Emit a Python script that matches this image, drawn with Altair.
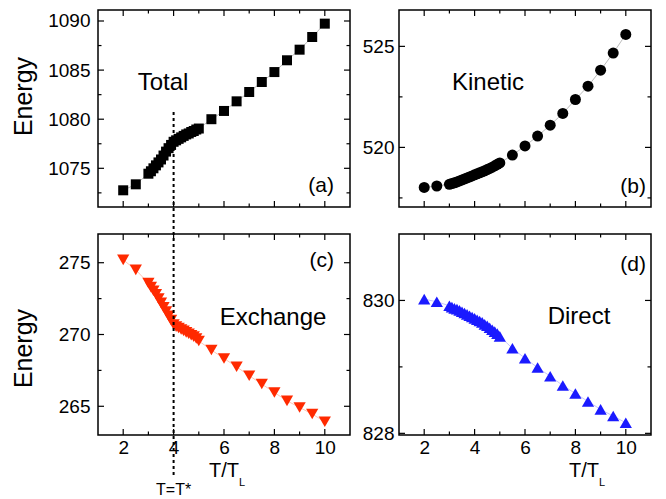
import altair as alt
import pandas as pd

# ---------------- data ----------------
T_VALS = [2.0, 2.5, 3.0, 3.1, 3.2, 3.3, 3.4, 3.5, 3.6, 3.7, 3.8, 3.9, 4.0,
          4.1, 4.2, 4.3, 4.4, 4.5, 4.6, 4.7, 4.8, 4.9, 5.0, 5.5, 6.0, 6.5,
          7.0, 7.5, 8.0, 8.5, 9.0, 9.5, 10.0]

TOTAL = [1072.76, 1073.37, 1074.45, 1074.7, 1075.0, 1075.3, 1075.6, 1075.9,
         1076.3, 1076.7, 1077.05, 1077.38, 1077.7, 1077.85, 1078.0, 1078.15,
         1078.3, 1078.45, 1078.55, 1078.7, 1078.8, 1078.95, 1079.05, 1080.0,
         1080.84, 1081.82, 1082.77, 1083.79, 1084.8, 1086.0, 1087.08, 1088.37,
         1089.73]

KINETIC = [518.02, 518.09, 518.17, 518.21, 518.25, 518.29, 518.34, 518.39,
           518.44, 518.49, 518.54, 518.59, 518.64, 518.69, 518.74, 518.79,
           518.84, 518.9, 518.96, 519.02, 519.09, 519.16, 519.23, 519.62,
           520.07, 520.56, 521.1, 521.68, 522.37, 523.03, 523.82, 524.67,
           525.59]

EXCHANGE = [275.2, 274.5, 273.58, 273.3, 273.05, 272.8, 272.5, 272.2, 271.9,
            271.6, 271.3, 271.0, 270.7, 270.55, 270.45, 270.35, 270.25,
            270.15, 270.05, 269.95, 269.85, 269.72, 269.55, 268.92, 268.33,
            267.75, 267.13, 266.55, 265.96, 265.38, 264.92, 264.46, 263.92]

DIRECT = [830.02, 829.98, 829.92, 829.9, 829.88, 829.87, 829.85, 829.83,
          829.81, 829.79, 829.77, 829.75, 829.73, 829.71, 829.69, 829.67,
          829.64, 829.62, 829.59, 829.56, 829.53, 829.5, 829.46, 829.28,
          829.13, 828.99, 828.86, 828.72, 828.6, 828.48, 828.36, 828.26,
          828.16]

PANEL_NAMES = ["Total", "Kinetic", "Exchange", "Direct"]
PANEL_TAGS = ["(a)", "(b)", "(c)", "(d)"]

X_MAJOR = [2, 4, 6, 8, 10]
X_MINOR = [3, 5, 7, 9]

A_MAJOR = [1075, 1080, 1085, 1090]
A_MINOR = [1072.5, 1077.5, 1082.5, 1087.5]
B_MAJOR = [520, 525]
B_MINOR = [517.5, 522.5]
C_MAJOR = [265, 270, 275]
C_MINOR = [267.5, 272.5]
D_MAJOR = [828, 830]
D_MINOR = [829]

T_STAR = [4.0]
T_STAR_LABEL = ["T=T*"]
Y_TITLE = "Energy"
X_TITLE_MAIN = "T/T"
X_TITLE_SUB = "L"

FONT = "Liberation Sans"
W = 252


def make_panel(vals, ydom, H, ymaj, ymin, shape, size, color, line_color,
               show_x, ytitle, title_y, label_pad, name, name_xy, tag, tag_xy,
               xtitle_x=None, tstar=False):
    df = pd.DataFrame({"T": T_VALS, "E": vals})
    xaxis = alt.Axis(values=X_MAJOR, labels=show_x, ticks=False, domain=False,
                     grid=False, title=None, labelFontSize=19, labelPadding=3,
                     labelFlush=False, labelOverlap=False, format="d")
    ykw = dict(values=ymaj, ticks=False, domain=False, grid=False,
               labelFontSize=19, labelPadding=label_pad, labelFlush=False,
               labelOverlap=False, format="d")
    if ytitle:
        yaxis = alt.Axis(title=Y_TITLE, titleFontSize=25,
                         titleFontWeight="normal", titleX=-62, titleY=title_y,
                         **ykw)
    else:
        yaxis = alt.Axis(title=None, **ykw)
    x = alt.X("T:Q", scale=alt.Scale(domain=[1, 11], nice=False, zero=False),
              axis=xaxis)
    y = alt.Y("E:Q", scale=alt.Scale(domain=ydom, nice=False, zero=False),
              axis=yaxis)

    layers = []
    layers.append(alt.Chart(df).mark_line(color=line_color, strokeWidth=0.7,
                                          opacity=0.7).encode(x=x, y=y))
    layers.append(alt.Chart(df).mark_point(shape=shape, filled=True, size=size,
                                           color=color, opacity=1,
                                           strokeWidth=0).encode(x=x, y=y))
    # inward ticks on all four sides
    for vals_, L in [(X_MAJOR, 6), (X_MINOR, 3.5)]:
        tdf = pd.DataFrame({"T": vals_})
        layers.append(alt.Chart(tdf).mark_rule(color="black", strokeWidth=1.2)
                      .encode(x=x, y=alt.value(H), y2=alt.value(H - L)))
        layers.append(alt.Chart(tdf).mark_rule(color="black", strokeWidth=1.2)
                      .encode(x=x, y=alt.value(0), y2=alt.value(L)))
    for vals_, L in [(ymaj, 6), (ymin, 3.5)]:
        tdf = pd.DataFrame({"E": vals_})
        layers.append(alt.Chart(tdf).mark_rule(color="black", strokeWidth=1.2)
                      .encode(y=y, x=alt.value(0), x2=alt.value(L)))
        layers.append(alt.Chart(tdf).mark_rule(color="black", strokeWidth=1.2)
                      .encode(y=y, x=alt.value(W), x2=alt.value(W - L)))
    # panel texts
    layers.append(alt.Chart(pd.DataFrame({"label": [name]}))
                  .mark_text(font=FONT, fontSize=24, align="center",
                             baseline="middle", color="black")
                  .encode(text="label:N", x=alt.value(name_xy[0]),
                          y=alt.value(name_xy[1])))
    layers.append(alt.Chart(pd.DataFrame({"label": [tag]}))
                  .mark_text(font=FONT, fontSize=21, align="right",
                             baseline="middle", color="black")
                  .encode(text="label:N", x=alt.value(tag_xy[0]),
                          y=alt.value(tag_xy[1])))
    if xtitle_x is not None:
        layers.append(alt.Chart(pd.DataFrame({"label": [X_TITLE_MAIN]}))
                      .mark_text(font=FONT, fontSize=20, align="left",
                                 baseline="middle", color="black")
                      .encode(text="label:N", x=alt.value(xtitle_x),
                              y=alt.value(H + 36)))
        layers.append(alt.Chart(pd.DataFrame({"label": [X_TITLE_SUB]}))
                      .mark_text(font=FONT, fontSize=11, align="left",
                                 baseline="middle", color="black")
                      .encode(text="label:N", x=alt.value(xtitle_x + 30),
                              y=alt.value(H + 48)))
    if tstar:
        sdf = pd.DataFrame({"T": T_STAR, "label": T_STAR_LABEL})
        layers.append(alt.Chart(sdf).mark_rule(color="black", strokeWidth=2,
                                               strokeDash=[3, 3])
                      .encode(x=x, y=alt.value(-122), y2=alt.value(H + 42)))
        layers.append(alt.Chart(sdf).mark_text(font=FONT, fontSize=16,
                                               align="center",
                                               baseline="middle",
                                               color="black")
                      .encode(x=x, text="label:N", y=alt.value(H + 55)))
    return alt.layer(*layers).properties(width=W, height=H)


HT = 197
HB = 201

pa = make_panel(TOTAL, [1071.06, 1091.12], HT, A_MAJOR, A_MINOR, "square", 100,
                "black", "#777777", False, True, 86, 8,
                PANEL_NAMES[0], (65, 73), PANEL_TAGS[0], (236, 176))
pb = make_panel(KINETIC, [517.05, 526.8], HT, B_MAJOR, B_MINOR, "circle", 121,
                "black", "#777777", False, False, None, 5,
                PANEL_NAMES[1], (89, 73), PANEL_TAGS[1], (247, 177))
pc = make_panel(EXCHANGE, [263.0, 277.0], HB, C_MAJOR, C_MINOR,
                "triangle-down", 150, "#ff2a00", "#ff8866", True, True, 114, 8,
                PANEL_NAMES[2], (175, 84), PANEL_TAGS[2], (236, 27),
                xtitle_x=111, tstar=True)
pd_ = make_panel(DIRECT, [827.975, 831.0], HB, D_MAJOR, D_MINOR,
                 "triangle-up", 150, "#1a1aff", "#8888ff", True, False, None, 5,
                 PANEL_NAMES[3], (180, 83), PANEL_TAGS[3], (247, 31),
                 xtitle_x=170)

chart = (
    alt.concat(pa, pb, pc, pd_, columns=2,
               spacing={"row": 27, "column": 49}, bounds="flush")
    .properties(padding={"left": 2, "top": 0, "right": 5, "bottom": 5})
    .configure_view(stroke="black", strokeWidth=1.5)
    .configure_axis(labelFont=FONT, titleFont=FONT, labelColor="black",
                    titleColor="black")
)

chart.save("out.html", embed_options={"renderer": "svg", "actions": False})
